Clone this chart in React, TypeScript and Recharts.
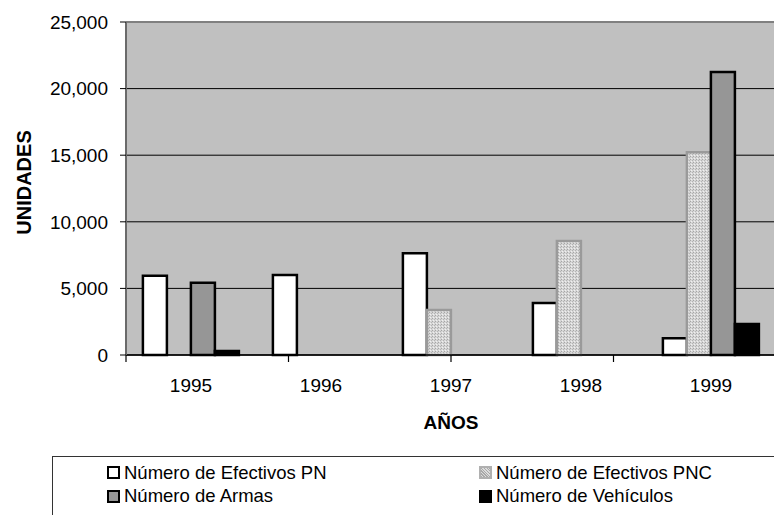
import React from 'react';
import {
  BarChart, Bar, XAxis, YAxis, CartesianGrid, Legend, ReferenceLine, Label
} from 'recharts';

const years = ['1995', '1996', '1997', '1998', '1999'];
const efectivosPN = [5950, 6000, 7630, 3900, 1250];
const efectivosPNC = [null, null, 3380, 8560, 15220];
const armas = [5430, null, null, null, 21250];
const vehiculos = [300, null, null, null, 2330];
const yTicks = [0, 5000, 10000, 15000, 20000, 25000];
const edgeTicks = [0, 1, 2, 3, 4, 5];

const series = [
  { key: 'pn', name: 'Número de Efectivos PN', fill: '#ffffff', stroke: '#000000' },
  { key: 'pnc', name: 'Número de Efectivos PNC', fill: 'url(#dotsPNC)', stroke: '#9a9a9a' },
  { key: 'armas', name: 'Número de Armas', fill: '#969696', stroke: '#000000' },
  { key: 'veh', name: 'Número de Vehículos', fill: '#000000', stroke: '#000000' },
];

const data = years.map((year, i) => ({
  year,
  pn: efectivosPN[i],
  pnc: efectivosPNC[i],
  armas: armas[i],
  veh: vehiculos[i],
}));

const FONT = '"Liberation Sans", Arial, sans-serif';

// legend keeps the series order (recharts would sort it by name)
const LegendBox = () => (
  <div style={{
    border: '1px solid #333', background: '#fff', boxSizing: 'border-box',
    width: 760, height: 80, paddingLeft: 54, paddingTop: 4,
    display: 'grid', gridTemplateColumns: '372px 372px', gridAutoRows: '23.5px',
    fontFamily: FONT, fontSize: 18.5, color: '#000',
  }}>
    {series.map(s => (
      <div key={s.key} style={{ display: 'flex', alignItems: 'center', whiteSpace: 'nowrap' }}>
        <span style={{
          width: 13, height: 13, boxSizing: 'border-box', marginRight: 4,
          border: `2px solid ${s.key === 'pnc' ? '#b0b0b0' : s.stroke}`,
          background: s.key === 'pnc' ? 'repeating-linear-gradient(45deg, #a8a8a8 0 1px, #dcdcdc 1px 2px)' : s.fill,
        }} />
        <span>{s.name}</span>
      </div>
    ))}
  </div>
);

const App: React.FC = () => {
  return (
    <div style={{ position: 'absolute', left: 0, top: 0, width: 774, height: 515, overflow: 'hidden', background: '#fff', fontFamily: FONT }}>
      <BarChart
        width={800}
        height={515}
        data={data}
        margin={{ top: 22, right: 24, left: 0, bottom: 84 }}
        barCategoryGap="13%"
        barGap={0}
      >
        <defs>
          <pattern id="dotsPNC" width="3" height="3" patternUnits="userSpaceOnUse">
            <rect width="3" height="3" fill="#d6d6d6" />
            <rect width="1" height="1" fill="#a6a6a6" />
            <rect x="2" y="1" width="1" height="1" fill="#b4b4b4" />
            <rect x="1" y="2" width="1" height="1" fill="#f0f0f0" />
          </pattern>
        </defs>
        <CartesianGrid vertical={false} fill="#c0c0c0" stroke="#000" strokeWidth={1} />
        {/* category boundary ticks */}
        <XAxis
          xAxisId="a"
          type="number"
          domain={[0, 5]}
          ticks={edgeTicks}
          interval={0}
          tick={() => <g />}
          height={6}
          tickSize={7}
          axisLine={{ stroke: '#000', strokeWidth: 1.5 }}
          tickLine={{ stroke: '#000', strokeWidth: 1.2 }}
        />
        <XAxis
          xAxisId="b"
          dataKey="year"
          height={70}
          axisLine={false}
          tickLine={false}
          tickSize={6}
          tickMargin={12}
          tick={{ fill: '#000', fontSize: 19, fontFamily: FONT }}
        >
          <Label
            content={({ viewBox }: any) => (
              <text x={viewBox.x + viewBox.width / 2} y={viewBox.y + 68} textAnchor="middle"
                fontSize={19} fontWeight="bold" fontFamily={FONT} fill="#000">AÑOS</text>
            )}
          />
        </XAxis>
        <YAxis
          width={126}
          domain={[0, 25000]}
          ticks={yTicks}
          interval={0}
          tickSize={6}
          tickMargin={12}
          tickFormatter={(v: number) => v.toLocaleString('en-US')}
          tick={{ fill: '#000', fontSize: 19, fontFamily: FONT }}
          axisLine={{ stroke: '#6a6a6a', strokeWidth: 2 }}
          tickLine={{ stroke: '#000', strokeWidth: 1 }}
        >
          <Label
            content={({ viewBox }: any) => {
              const cx = 24;
              const cy = viewBox.y + viewBox.height / 2 - 6;
              return (
                <text x={cx} y={cy} transform={`rotate(-90 ${cx} ${cy})`} textAnchor="middle"
                  dominantBaseline="central" fontSize={20} fontWeight="bold" fontFamily={FONT} fill="#000">UNIDADES</text>
              );
            }}
          />
        </YAxis>
        <ReferenceLine y={25000} xAxisId="b" stroke="#808080" strokeWidth={2} />
        {series.map(s => (
          <Bar
            key={s.key}
            xAxisId="b"
            dataKey={s.key}
            name={s.name}
            fill={s.fill}
            stroke={s.stroke}
            strokeWidth={2.5}
            isAnimationActive={false}
          />
        ))}
        <Legend
          layout="horizontal"
          verticalAlign="middle"
          align="center"
          content={<LegendBox />}
          wrapperStyle={{ left: 52, top: 456, width: 760, height: 80 }}
        />
      </BarChart>
    </div>
  );
};

export default App;
